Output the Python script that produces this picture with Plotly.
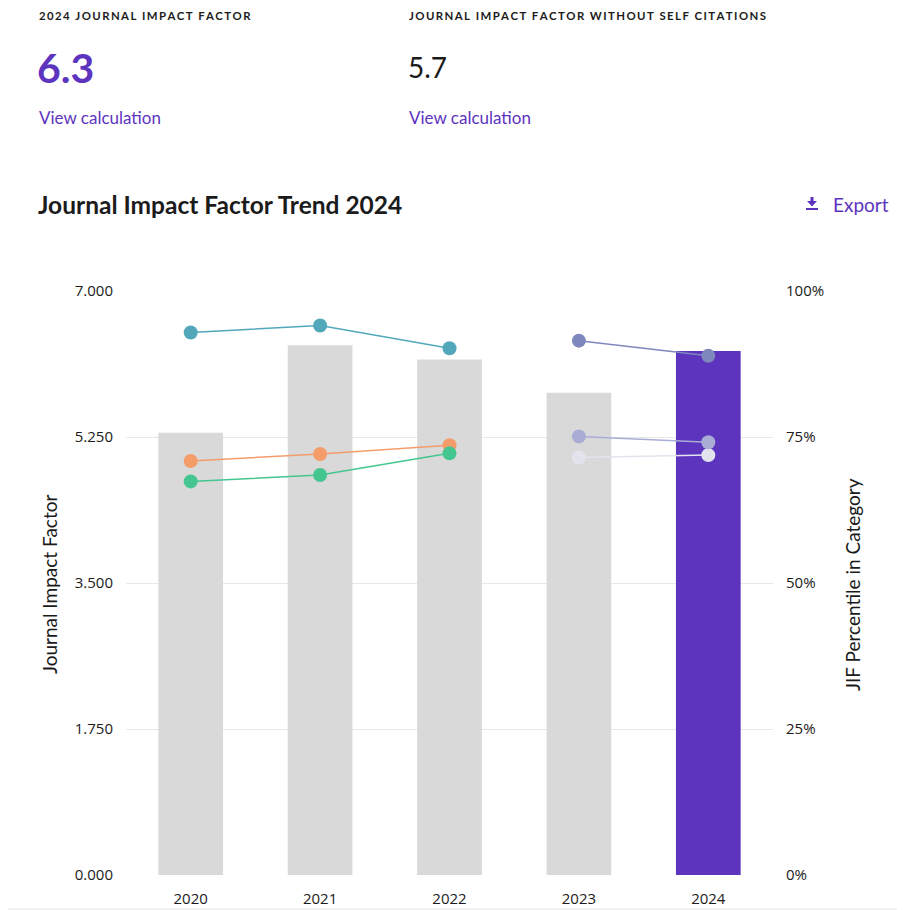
import plotly.graph_objects as go

# ---- data ----
years = ["2020", "2021", "2022", "2023", "2024"]
jif = [5.30, 6.35, 6.18, 5.78, 6.28]

early_years = ["2020", "2021", "2022"]
pct_teal = [92.9, 94.1, 90.2]
pct_orange = [70.9, 72.1, 73.6]
pct_green = [67.4, 68.5, 72.2]

late_years = ["2023", "2024"]
pct_slate = [91.5, 88.9]
pct_lavender = [75.1, 74.1]
pct_pale = [71.5, 71.9]

jif_ticks = [0, 1.75, 3.5, 5.25, 7]
pct_ticks = [0, 25, 50, 75, 100]
pct_labels = [f"{v}%" for v in pct_ticks]

headline_jif = "6.3"
headline_no_self = "5.7"

# ---- layout geometry (screen pixels; the page body adds an 8px margin) ----
PAGE = 8
W, H = 905 - 2 * PAGE, 910 - PAGE
L, R, T, B = 126, 773, 291, 875

PURPLE = "#5D34BE"
GREY_BAR = "#D9D9D9"
TEXT = "#1b1b1b"
HEAD_FONT = "Lato"
TICK_FONT = "Open Sans"


def px(x):
    return (x - L) / (R - L)


def py(y):
    return (B - y) / (B - T)


bar_colors = [GREY_BAR] * (len(years) - 1) + [PURPLE]

fig = go.Figure()

fig.add_trace(go.Bar(
    x=years, y=jif,
    marker=dict(color=bar_colors, line=dict(width=0)),
    hoverinfo="skip",
    showlegend=False,
))


def add_series(xs, ys, color):
    fig.add_trace(go.Scatter(
        x=xs, y=ys, yaxis="y2",
        mode="lines+markers",
        line=dict(color=color, width=1.5),
        marker=dict(color=color, size=14, line=dict(width=0)),
        showlegend=False,
    ))


add_series(early_years, pct_teal, "#52A8BA")
add_series(early_years, pct_orange, "#F59C6B")
add_series(early_years, pct_green, "#45C690")
add_series(late_years, pct_pale, "#E3E3EE")
add_series(late_years, pct_lavender, "#A9ADD6")
add_series(late_years, pct_slate, "#7F88BD")


def spaced(s):
    return "\u2009".join(s)


annotations = [
    dict(x=px(37), y=py(15), text="<b>" + spaced("2024 JOURNAL IMPACT FACTOR") + "</b>",
         font=dict(family=HEAD_FONT, size=11.4, color=TEXT)),
    dict(x=px(407), y=py(15), text="<b>" + spaced("JOURNAL IMPACT FACTOR WITHOUT SELF CITATIONS") + "</b>",
         font=dict(family=HEAD_FONT, size=11.4, color=TEXT)),
    dict(x=px(35), y=py(67), text="<b>" + headline_jif + "</b>",
         font=dict(family=HEAD_FONT, size=41, color=PURPLE)),
    dict(x=px(406), y=py(67), text=headline_no_self,
         font=dict(family=HEAD_FONT, size=28, color=TEXT)),
    dict(x=px(37), y=py(117), text="View calculation",
         font=dict(family=HEAD_FONT, size=17, color=PURPLE)),
    dict(x=px(407), y=py(117), text="View calculation",
         font=dict(family=HEAD_FONT, size=17, color=PURPLE)),
    dict(x=px(36), y=py(204), text="<b>Journal Impact Factor Trend 2024</b>",
         font=dict(family=HEAD_FONT, size=24.5, color=TEXT)),
    dict(x=px(831), y=py(204), text="Export",
         font=dict(family=HEAD_FONT, size=19, color=PURPLE)),
    dict(x=px(49), y=py(585), text="Journal Impact Factor", textangle=-90,
         xanchor="center", font=dict(family=HEAD_FONT, size=19, color=TEXT)),
    dict(x=px(852), y=py(585), text="JIF Percentile in Category", textangle=-90,
         xanchor="center", font=dict(family=HEAD_FONT, size=19, color=TEXT)),
]
for a in annotations:
    a.setdefault("xanchor", "left")
    a.update(xref="paper", yref="paper", yanchor="middle", showarrow=False)

# download icon next to "Export"
icon = (f"M {px(810.5)},{py(197)} L {px(813.5)},{py(197)} L {px(813.5)},{py(201)} "
        f"L {px(817)},{py(201)} L {px(812)},{py(206.5)} L {px(807)},{py(201)} "
        f"L {px(810.5)},{py(201)} Z")
shapes = [
    dict(type="path", path=icon, xref="paper", yref="paper",
         fillcolor=PURPLE, line=dict(width=0)),
    dict(type="rect", xref="paper", yref="paper",
         x0=px(806), x1=px(818), y0=py(210), y1=py(208),
         fillcolor=PURPLE, line=dict(width=0)),
    dict(type="line", xref="paper", yref="paper",
         x0=px(PAGE), x1=px(905 - PAGE), y0=py(909), y1=py(909),
         line=dict(color="#E6E6E6", width=1)),
]

fig.update_layout(
    width=W, height=H,
    margin=dict(l=L - PAGE, r=W + PAGE - R, t=T - PAGE, b=H + PAGE - B,
                autoexpand=False),
    paper_bgcolor="white",
    plot_bgcolor="white",
    bargap=0.5,
    annotations=annotations,
    shapes=shapes,
    xaxis=dict(
        type="category",
        categoryorder="array", categoryarray=years,
        showgrid=False, zeroline=False, showline=False, automargin=False,
        ticks="", ticklabelstandoff=13,
        tickfont=dict(family=TICK_FONT, size=15, color=TEXT),
    ),
    yaxis=dict(
        range=[0, 7], tickvals=jif_ticks, tickformat=".3f",
        showgrid=True, gridcolor="#E8E8E8", gridwidth=1,
        zeroline=False, showline=False, ticks="", automargin=False,
        ticklabelstandoff=12,
        tickfont=dict(family=TICK_FONT, size=15, color=TEXT),
    ),
    yaxis2=dict(
        overlaying="y", side="right",
        range=[0, 100], tickvals=pct_ticks, ticktext=pct_labels,
        showgrid=False, zeroline=False, showline=False, ticks="", automargin=False,
        ticklabelstandoff=12,
        tickfont=dict(family=TICK_FONT, size=15, color=TEXT),
    ),
)

fig.write_html("out.html")
